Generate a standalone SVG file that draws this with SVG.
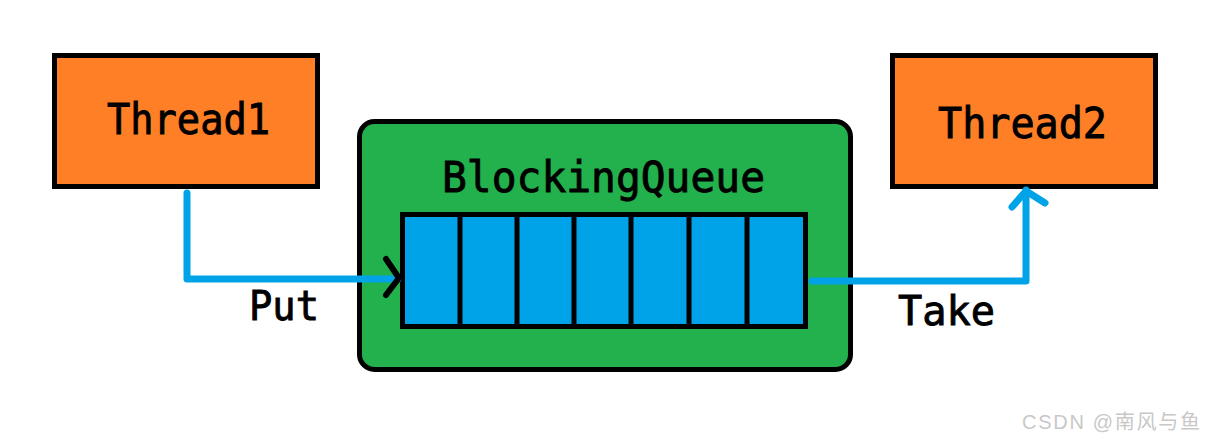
<svg xmlns="http://www.w3.org/2000/svg" width="1207" height="440" viewBox="0 0 1207 440">
<style>
.thread{fill:#FF7F27;stroke:#000;stroke-width:5}
.lbl{font-family:"DejaVu Sans Mono","Liberation Mono",monospace;fill:#000;stroke:#000;stroke-width:0.9}
.big{font-size:42px}
.conn{fill:none;stroke:#00A2E8;stroke-width:7;stroke-linejoin:round;stroke-linecap:round}
.cell{fill:#00A2E8;stroke:#000;stroke-width:5}
</style>
<rect width="1207" height="440" fill="#fff"/>
<g id="thread1">
<rect class="thread" x="54.5" y="55.5" width="263" height="131"/>
<text class="lbl big" x="107" y="134" textLength="163" lengthAdjust="spacingAndGlyphs">Thread1</text>
</g>
<g id="blockingqueue">
<rect x="359.5" y="121.5" width="491" height="248" rx="15" fill="#22B14C" stroke="#000" stroke-width="5"/>
<text class="lbl big" x="442" y="192" textLength="323" lengthAdjust="spacingAndGlyphs">BlockingQueue</text>
<rect class="cell" x="402.5" y="214.5" width="403" height="112"/>
<path d="M460 214.5V326.5M517 214.5V326.5M574 214.5V326.5M631 214.5V326.5M689 214.5V326.5M747 214.5V326.5" stroke="#000" stroke-width="5"/>
</g>
<g id="thread2">
<rect class="thread" x="892.5" y="55.5" width="263" height="131"/>
<text class="lbl big" x="938" y="138" textLength="169" lengthAdjust="spacingAndGlyphs">Thread2</text>
</g>
<g id="connectors">
<path class="conn" d="M187 193V279H398"/>
<path d="M386 259L399 278L386 295" fill="none" stroke="#000" stroke-width="6" stroke-linecap="round" stroke-linejoin="round"/>
<path class="conn" d="M812 281H1026V190"/>
<path class="conn" d="M1012 207L1026 191L1045 203"/>
<text class="lbl" x="249" y="320" font-size="40" textLength="70" lengthAdjust="spacingAndGlyphs">Put</text>
<text class="lbl" x="898" y="325" font-size="40" textLength="97" lengthAdjust="spacingAndGlyphs">Take</text>
</g>
<text x="1022" y="429" font-family="'Liberation Sans','Noto Sans CJK SC',sans-serif" font-size="20" fill="#c8c8c8" textLength="178">CSDN @南风与鱼</text>
</svg>
